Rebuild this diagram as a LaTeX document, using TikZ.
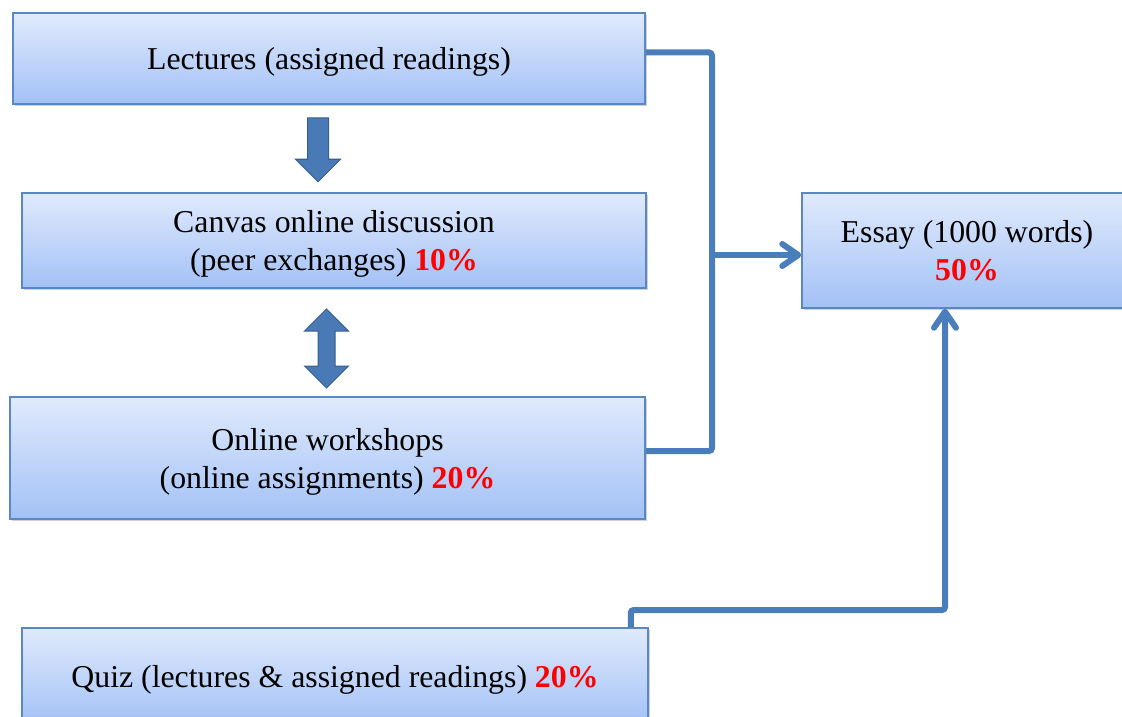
\documentclass[tikz,border=0pt]{standalone}
\usepackage{fontspec}
\setmainfont{Liberation Serif}
\usepackage{xcolor}
\usetikzlibrary{shapes.arrows, arrows.meta, shadows, calc}
\definecolor{boxTop}{HTML}{E0EAFC}
\definecolor{boxBottom}{HTML}{A3C1F6}
\definecolor{boxEdge}{HTML}{5A88C4}
\definecolor{link}{HTML}{4A7EBB}
\definecolor{fatFill}{HTML}{4A7AB6}
\definecolor{fatEdge}{HTML}{35608F}
\definecolor{pct}{HTML}{FF0000}

\begin{document}
\begin{tikzpicture}[
  x=1pt, y=-1pt,
  font=\fontsize{31.8}{38}\selectfont,
  every node/.style={align=center},
  block/.style={rectangle, draw=boxEdge, line width=1.5pt,
    top color=boxTop, bottom color=boxBottom, inner sep=0pt, text depth=0pt,
    drop shadow={shadow xshift=2pt, shadow yshift=-2pt, opacity=0.3, fill=black!60}},
  fatdown/.style={single arrow, draw=fatEdge, fill=fatFill, line width=1pt,
    shape border rotate=270, inner sep=10pt, minimum width=44pt,
    minimum height=64pt, single arrow head extend=12pt},
  fatboth/.style={double arrow, draw=fatEdge, fill=fatFill, line width=1pt,
    shape border rotate=90, inner sep=8pt, minimum width=43pt,
    minimum height=79pt, double arrow head extend=13.5pt},
  conn/.style={draw=link, line width=6pt, rounded corners=3pt},
  arrow/.style={conn, -{Straight Barb[length=16pt, width=22pt, line cap=round, line join=round]}},
]
  \useasboundingbox (0,0) rectangle (1122,717);
  \clip (0,0) rectangle (1122,717);

  \node[block, minimum width=632pt, minimum height=91pt] (lect) at (329,58.5)
    {Lectures (assigned readings)};
  \node[block, minimum width=624pt, minimum height=95pt] (canvas) at (334,240.5)
    {Canvas online discussion\\(peer exchanges) \textcolor{pct}{\textbf{10\%}}};
  \node[block, minimum width=635pt, minimum height=122pt] (work) at (327.5,458)
    {Online workshops\\(online assignments) \textcolor{pct}{\textbf{20\%}}};
  \node[block, minimum width=330pt, minimum height=115pt] (essay) at (967,250.5)
    {Essay (1000 words)\\\textcolor{pct}{\textbf{50\%}}};
  \node[block, minimum width=626pt, minimum height=96pt] (quiz) at (335,676)
    {Quiz (lectures \& assigned readings) \textcolor{pct}{\textbf{20\%}}};

  \node[fatdown] (down) at (318,144.5) {};
  \node[fatboth] (both) at (326.5,348.5) {};

  \coordinate (trunk) at (712,255);
  \coordinate (qturn) at (945,610);

  \draw[conn] ([yshift=6pt]lect.east) -| (trunk) |- ([yshift=7pt]work.east);
  \draw[arrow] (trunk) -- (trunk -| essay.west);
  \draw[arrow] ([xshift=-18pt]quiz.north east) |- (qturn) -- (qturn |- essay.south);
\end{tikzpicture}
\end{document}
